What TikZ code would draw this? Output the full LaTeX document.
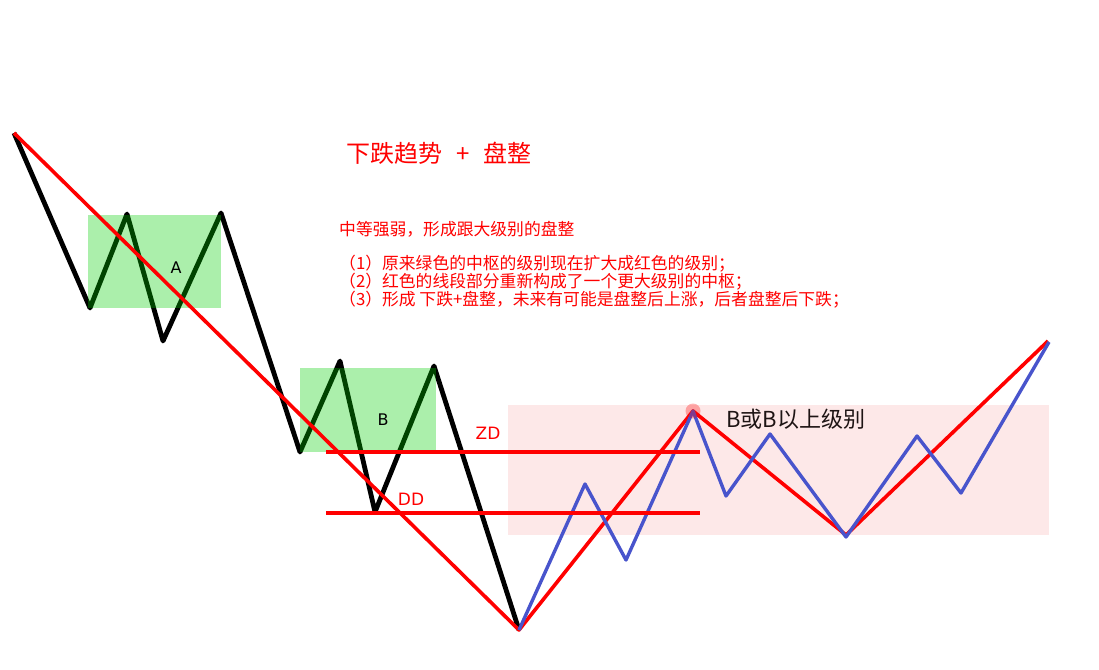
\documentclass[tikz,border=0pt]{standalone}
\usepackage{fontspec}
\newfontfamily\cjk{Noto Sans CJK SC}
\newfontfamily\dejavu{DejaVu Sans}
\definecolor{pinkbg}{RGB}{253,232,232}
\definecolor{boxgreen}{RGB}{0,205,0}
\definecolor{myblue}{RGB}{72,84,204}
\definecolor{myred}{RGB}{255,0,0}
\definecolor{labeldark}{RGB}{30,20,20}
\tikzset{
  blackline/.style={line width=4.8pt, black, line join=round},
  redline/.style={line width=3.6pt, myred, line join=round},
  blueline/.style={line width=3.4pt, myblue, line join=round},
  levelline/.style={line width=3.4pt, myred},
  greenbox/.style={fill=boxgreen, fill opacity=0.33, draw=none},
  redtext/.style={text=myred, font=\cjk\fontsize{16.8}{18}\selectfont, anchor=west, inner sep=0pt},
  letter/.style={font=\dejavu\fontsize{16}{16}\selectfont, text=black, inner sep=0pt},
  levellabel/.style={font=\dejavu\fontsize{17}{17}\selectfont, text=myred, inner sep=0pt}
}
\begin{document}
\begin{tikzpicture}[x=1pt,y=-1pt]
\useasboundingbox (0,0) rectangle (1099,669);
% pink consolidation area
\fill[pinkbg] (508,405) rectangle (1049,535);
% black vertices
\coordinate (k0) at (14,133);
\coordinate (k1) at (90,308);
\coordinate (k2) at (127,214);
\coordinate (k3) at (163,341);
\coordinate (k4) at (221,213);
\coordinate (k5) at (300,452);
\coordinate (k6) at (340,361);
\coordinate (k7) at (375,512);
\coordinate (k8) at (434,366);
\coordinate (k9) at (519,630);
\draw[blackline] (k0) -- (k1) -- (k2) -- (k3) -- (k4) -- (k5) -- (k6) -- (k7) -- (k8) -- (k9);
% green boxes
\fill[greenbox] (88,215) rectangle (221,308);
\fill[greenbox] (300,368) rectangle (436,452);
\node[letter] (labA) at (176,268) {A};
\node[letter] (labB) at (383,420) {B};
% red trend
\coordinate (r1) at (693,411);
\coordinate (r2) at (846,535);
\coordinate (r3) at (1048,341);
\draw[redline] (k0) -- (k9) -- (r1) -- (r2) -- (r3);
% blue
\coordinate (b1) at (585,484);
\coordinate (b2) at (626,560);
\coordinate (b3) at (726,496);
\coordinate (b4) at (770,434);
\coordinate (b5) at (846,537);
\coordinate (b6) at (917,436);
\coordinate (b7) at (961,493);
\coordinate (b8) at (1049,342);
\draw[blueline] (k9) -- (b1) -- (b2) -- (r1) -- (b3) -- (b4) -- (b5) -- (b6) -- (b7) -- (b8);
% ZD / DD
\coordinate (zdL) at (326,452);
\coordinate (zdR) at (700,452);
\coordinate (ddL) at (326,513);
\coordinate (ddR) at (700,513);
\draw[levelline] (zdL) -- (zdR);
\draw[levelline] (ddL) -- (ddR);
\node[levellabel] (zd) at (488,433) {ZD};
\node[levellabel] (dd) at (411,499) {DD};
% dot
\fill[myred, fill opacity=0.3] (r1) circle (7.5);
\node[font=\cjk\fontsize{22}{22}\selectfont, text=labeldark, anchor=west, inner sep=0pt] (blabel) at (726,419) {B或B以上级别};
% texts
\node[font=\cjk\fontsize{24}{25}\selectfont, text=myred, anchor=west, inner sep=0pt] (title) at (346,153) {下跌趋势\hspace{14pt}+\hspace{14pt}盘整};
\node[redtext] (t0) at (339,229) {中等强弱，形成跟大级别的盘整};
\node[redtext] (t1) at (339,264) {（1）原来绿色的中枢的级别现在扩大成红色的级别；};
\node[redtext] (t2) at (339,282) {（2）红色的线段部分重新构成了一个更大级别的中枢；};
\node[redtext] (t3) at (339,300) {（3）形成 下跌+盘整，未来有可能是盘整后上涨，后者盘整后下跌；};
\end{tikzpicture}
\end{document}
